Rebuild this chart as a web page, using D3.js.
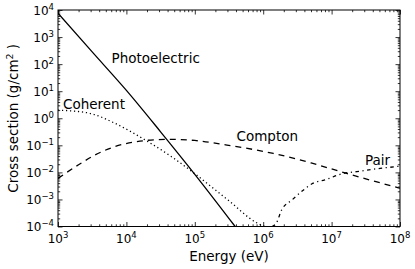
<!DOCTYPE html>
<html>
<head>
<meta charset="utf-8">
<script src="https://cdn.jsdelivr.net/npm/d3@7"></script>
<style>
    body { margin: 0; background: #fff; }
    svg { display: block; font-family: "DejaVu Sans", sans-serif; }
    .tick line { stroke: #000; }
</style>
</head>
<body>
<div id="chart"></div>
<script>
// tick exponents (10^n)
var xExponents = [3, 4, 5, 6, 7, 8];
var yExponents = [-4, -3, -2, -1, 0, 1, 2, 3, 4];

// values (energy in eV, cross section in g/cm2)
var photoEnergy = [1e3, 3.16e3, 1e4, 3.16e4, 1e5, 3.89e5];
var photoSigma = [7600, 282, 10.7, 0.316, 8.5e-3, 1e-4];

var coherentEnergy = [1e3, 1.6e3, 3.16e3, 6.8e3, 1.86e4, 4.57e4, 1e5, 3.16e5, 7.9e5, 1.05e6];
var coherentSigma = [2.0, 1.86, 1.45, 0.65, 0.16, 0.038, 8.9e-3, 8.9e-4, 1.4e-4, 1e-4];

var comptonEnergy = [1e3, 2.34e3, 3.47e3, 1.35e4, 3.98e4, 1e5, 2.95e5, 1.41e6, 5.01e6, 1.66e7, 1e8];
var comptonSigma = [6.0e-3, 0.0245, 0.0437, 0.135, 0.166, 0.151, 0.102, 0.050, 0.0224, 9.1e-3, 2.6e-3];

var pairEnergy = [1.35e6, 1.55e6, 1.86e6, 2.63e6, 3.89e6, 5.37e6, 7.94e6, 1.48e7, 2.34e7, 5.13e7, 8.51e7, 1e8];
var pairSigma = [1e-4, 1.32e-4, 4.07e-4, 9.5e-4, 2.24e-3, 3.98e-3, 5.25e-3, 9.1e-3, 1.07e-2, 1.41e-2, 1.62e-2, 1.70e-2];

var width = 415, height = 269;
var plotLeft = 58, plotRight = 400, plotTop = 10, plotBottom = 226.5;

var svg = d3.select("#chart")
    .append("svg")
    .attr("width", width)
    .attr("height", height);

var x = d3.scaleLog().domain([1e3, 1e8]).range([plotLeft, plotRight]);
var y = d3.scaleLog().domain([1e-4, 1e4]).range([plotBottom, plotTop]);

var majorX = xExponents.map(function (e) { return Math.pow(10, e); });
var majorY = yExponents.map(function (e) { return Math.pow(10, e); });

function minors(majors) {
    var out = [];
    for (var i = 0; i < majors.length - 1; i++) {
        for (var k = 2; k < 10; k++) out.push(majors[i] * k);
    }
    return out;
}

// ticks on all four sides, pointing inward
function drawAxis(axisFn, scale, values, size, transform) {
    var g = svg.append("g")
        .attr("transform", transform)
        .call(axisFn(scale).tickValues(values).tickSize(-size).tickFormat(""));
    g.select(".domain").remove();
    g.selectAll("line").attr("stroke-width", 0.8);
}
drawAxis(d3.axisBottom, x, majorX, 4.5, "translate(0," + plotBottom + ")");
drawAxis(d3.axisBottom, x, minors(majorX), 2.2, "translate(0," + plotBottom + ")");
drawAxis(d3.axisTop, x, majorX, 4.5, "translate(0," + plotTop + ")");
drawAxis(d3.axisTop, x, minors(majorX), 2.2, "translate(0," + plotTop + ")");
drawAxis(d3.axisLeft, y, majorY, 4.5, "translate(" + plotLeft + ",0)");
drawAxis(d3.axisLeft, y, minors(majorY), 2.2, "translate(" + plotLeft + ",0)");
drawAxis(d3.axisRight, y, majorY, 4.5, "translate(" + plotRight + ",0)");
drawAxis(d3.axisRight, y, minors(majorY), 2.2, "translate(" + plotRight + ",0)");

svg.append("clipPath")
    .attr("id", "plot-clip")
    .append("rect")
    .attr("x", plotLeft)
    .attr("y", plotTop)
    .attr("width", plotRight - plotLeft)
    .attr("height", plotBottom - plotTop);

var line = d3.line()
    .x(function (d) { return x(d[0]); })
    .y(function (d) { return y(d[1]); })
    .curve(d3.curveMonotoneX);

var series = [
    { e: photoEnergy, s: photoSigma, dash: null },
    { e: coherentEnergy, s: coherentSigma, dash: "1.2,2.8" },
    { e: comptonEnergy, s: comptonSigma, dash: "6,5" },
    { e: pairEnergy, s: pairSigma, dash: "3.5,3.5,1.2,3.5" }
];

series.forEach(function (d) {
    svg.append("path")
        .datum(d3.zip(d.e, d.s))
        .attr("clip-path", "url(#plot-clip)")
        .attr("fill", "none")
        .attr("stroke", "#000")
        .attr("stroke-width", 1.3)
        .attr("stroke-dasharray", d.dash)
        .attr("d", line);
});

// frame
svg.append("rect")
    .attr("x", plotLeft)
    .attr("y", plotTop)
    .attr("width", plotRight - plotLeft)
    .attr("height", plotBottom - plotTop)
    .attr("fill", "none")
    .attr("stroke", "#000")
    .attr("stroke-width", 1);

function expText(e) {
    return e < 0 ? "\u2212" + (-e) : "" + e;
}

// x tick labels
xExponents.forEach(function (e) {
    var t = svg.append("text")
        .attr("x", x(Math.pow(10, e)))
        .attr("y", 243)
        .attr("text-anchor", "middle")
        .attr("font-size", 12);
    t.append("tspan").text("10");
    t.append("tspan").attr("dy", -5).attr("font-size", 8.5).text(expText(e));
});

// y tick labels
yExponents.forEach(function (e) {
    var t = svg.append("text")
        .attr("x", 54)
        .attr("y", y(Math.pow(10, e)) + 4.5)
        .attr("text-anchor", "end")
        .attr("font-size", 12);
    t.append("tspan").text("10");
    t.append("tspan").attr("dy", -5).attr("font-size", 8.5).text(expText(e));
});

// axis titles
svg.append("text")
    .attr("x", (plotLeft + plotRight) / 2)
    .attr("y", 261)
    .attr("text-anchor", "middle")
    .attr("font-size", 13.5)
    .text("Energy (eV)");

var yl = svg.append("text")
    .attr("transform", "translate(17.5," + (plotTop + plotBottom) / 2 + ") rotate(-90)")
    .attr("text-anchor", "middle")
    .attr("font-size", 13.5);
yl.append("tspan").text("Cross section (g/cm");
yl.append("tspan").attr("dy", -5).attr("font-size", 9.5).text("2");
yl.append("tspan").attr("dy", 5).text(" )");

// curve labels
var labels = [
    { text: "Photoelectric", x: 111.5, y: 63 },
    { text: "Coherent", x: 63, y: 108.5 },
    { text: "Compton", x: 236.5, y: 140.5 },
    { text: "Pair", x: 365, y: 165 }
];
labels.forEach(function (d) {
    svg.append("text")
        .attr("x", d.x)
        .attr("y", d.y)
        .attr("font-size", 13.5)
        .text(d.text);
});
</script>
</body>
</html>
